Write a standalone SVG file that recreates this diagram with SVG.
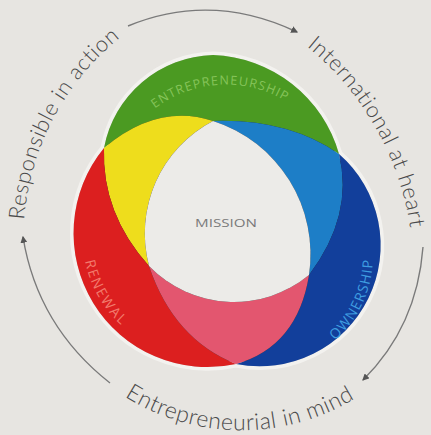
<svg xmlns="http://www.w3.org/2000/svg" width="431" height="435" viewBox="0 0 431 435">
<defs>
<style>
.outer{font-family:Lato,"Open Sans","Liberation Sans",sans-serif;font-size:22px;font-weight:300;fill:#4a4a4a;}
.lab{font-family:"Open Sans","Liberation Sans",sans-serif;font-size:12.5px;}
.conn{fill:none;stroke:#7a7a7a;stroke-width:1.4;}
</style>
<marker id="ah" viewBox="0 0 6 6" refX="5" refY="3" markerWidth="5" markerHeight="5" orient="auto">
<path d="M0,0 L6,3 L0,6 z" fill="#555"/>
</marker>
<path id="pResp" d="M24 222 A260 260 0 0 1 122 36"/>
<path id="pIntl" d="M296 38 A290 290 0 0 1 412 242"/>
<path id="pEntr" d="M118 392 A218 218 0 0 0 362 394"/>
<path id="pEnt2" d="M146 116 A117 117 0 0 1 296 108"/>
<path id="pRen" d="M83 238 A118 118 0 0 0 141 340"/>
<path id="pOwn" d="M316 354 A112 112 0 0 0 371 236"/>
</defs>
<rect width="431" height="435" fill="#e7e5e1"/>

<g id="venn">
<path d="M104 148 A114 114 0 0 1 213 55 A136 136 0 0 1 339 154 A121 121 0 0 1 236 364 A134 134 0 0 1 104 148 Z" fill="#2a2a2a" stroke="#f6f5f3" stroke-width="7" stroke-opacity="0.8"/>
<g id="green"><path d="M104 148 A114 114 0 0 1 213 55 A136 136 0 0 1 339 154 Q288 118.5 213 121 Q157.5 103 104 148 Z" fill="#4b9a22"/></g>
<g id="yellow"><path d="M104 148 Q157.5 103 213 121 A127 127 0 0 0 149 266 Q101.5 213 104 148 Z" fill="#eedd1c"/></g>
<g id="cyan"><path d="M213 121 Q288 118.5 339 154 Q354 215.5 309 275 A140 140 0 0 0 213 121 Z" fill="#1d7ec7"/></g>
<g id="red"><path d="M104 148 Q101.5 213 149 266 Q173.5 339 236 364 A134 134 0 0 1 104 148 Z" fill="#dc1f1f"/></g>
<g id="blue"><path d="M339 154 A121 121 0 0 1 236 364 Q297.5 346.5 309 275 Q354 215.5 339 154 Z" fill="#123f9b"/></g>
<g id="pink"><path d="M149 266 A118 118 0 0 0 309 275 Q297.5 346.5 236 364 Q173.5 339 149 266 Z" fill="#e3566f"/></g>
<g id="mission"><path d="M213 121 A127 127 0 0 0 149 266 A118 118 0 0 0 309 275 A140 140 0 0 0 213 121 Z" fill="#ecebe8"/>
<text x="226" y="227" font-family="'Open Sans','Liberation Sans',sans-serif" font-size="11" fill="#7a7a7a" text-anchor="middle" textLength="62" lengthAdjust="spacingAndGlyphs">MISSION</text></g>
<text class="lab" fill="#86c45a" letter-spacing="1.2"><textPath href="#pEnt2" startOffset="50%" text-anchor="middle">ENTREPRENEURSHIP</textPath></text>
<text class="lab" fill="#f27a6c" letter-spacing="1.8" style="font-size:14px"><textPath href="#pRen" startOffset="50%" text-anchor="middle">RENEWAL</textPath></text>
<text class="lab" fill="#3f9de0" letter-spacing="1.2" style="font-size:14px"><textPath href="#pOwn" startOffset="50%" text-anchor="middle">OWNERSHIP</textPath></text>
</g>

<g id="connectors">
<path class="conn" d="M128 26 Q211.5 -8.5 297 32" marker-end="url(#ah)"/>
<path class="conn" d="M423 247 Q417 326.5 363 380" marker-end="url(#ah)"/>
<path class="conn" d="M110 383 Q37.5 326 23 237" marker-end="url(#ah)"/>
</g>

<g id="responsible"><text class="outer" letter-spacing="0.6"><textPath href="#pResp" startOffset="50%" text-anchor="middle">Responsible in action</textPath></text></g>
<g id="international"><text class="outer" letter-spacing="0.7"><textPath href="#pIntl" startOffset="50%" text-anchor="middle">International at heart</textPath></text></g>
<g id="entrepreneurial"><text class="outer" style="font-size:23px" letter-spacing="0.5"><textPath href="#pEntr" startOffset="50%" text-anchor="middle">Entrepreneurial in mind</textPath></text></g>
</svg>
